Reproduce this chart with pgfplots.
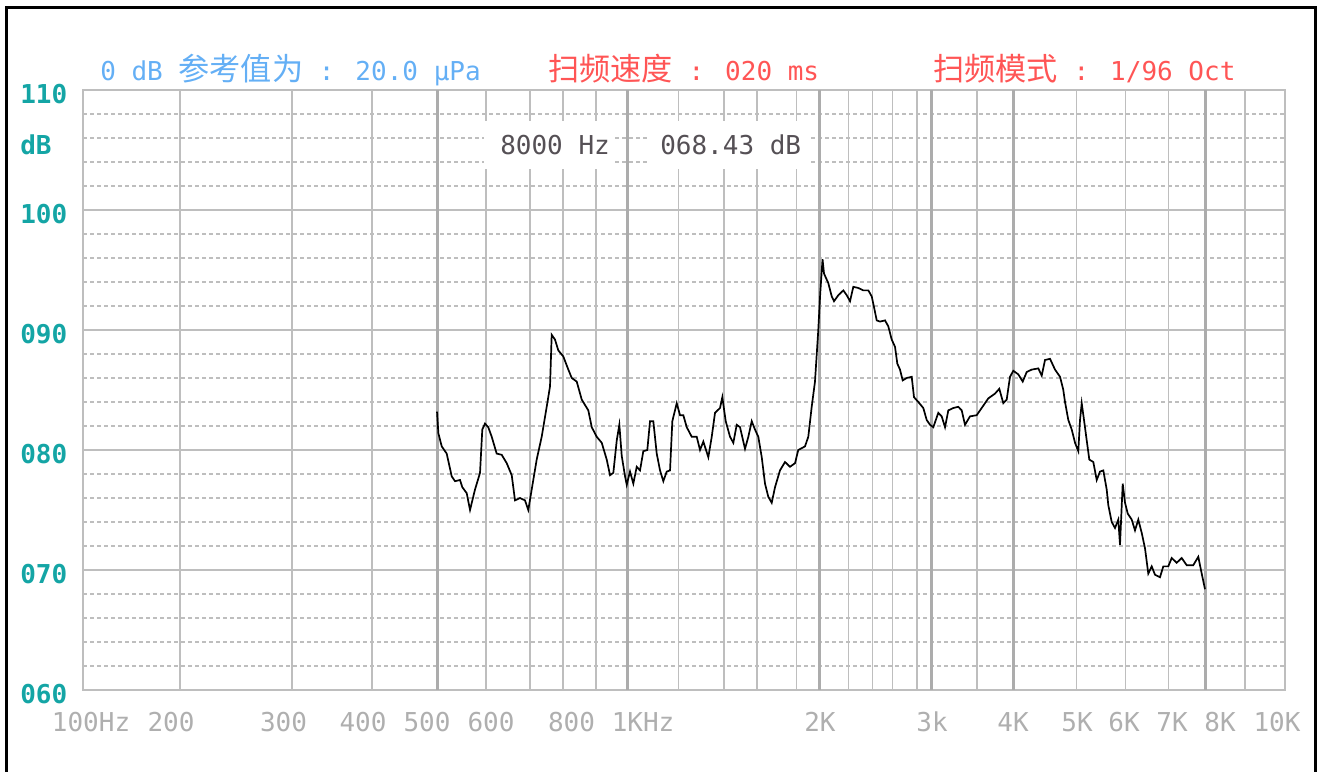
\documentclass[border=0pt]{standalone}
\usepackage{fontspec}
\usepackage{pgfplots}
\pgfplotsset{compat=1.18}
\newfontfamily\mono{DejaVu Sans Mono}
\newfontfamily\cjk{Noto Sans CJK SC}
\newlength\px
\setlength\px{0.75pt}
\newcommand\M{\mono\fontsize{19.5pt}{20pt}\selectfont}
\newcommand\MB{\mono\bfseries\fontsize{19.5pt}{20pt}\selectfont}
\newcommand\C{\cjk\fontsize{23.4pt}{24pt}\selectfont}
\definecolor{gridc}{RGB}{190,190,190}
\definecolor{gridk}{RGB}{172,172,172}
\definecolor{ytcol}{RGB}{20,165,165}
\definecolor{xlab}{RGB}{175,175,175}
\definecolor{topblue}{RGB}{100,175,245}
\definecolor{topred}{RGB}{255,85,85}
\definecolor{annot}{RGB}{85,80,85}

\begin{document}
\begin{tikzpicture}[x=\px,y=\px]
\begin{axis}[
  at={(83\px,81\px)}, anchor=south west, scale only axis,
  width=1202\px, height=600\px,
  xmode=log, xmin=139.3, xmax=10679, ymin=60, ymax=110,
  axis line style={gridc, line width=1.5\px},
  tick style={draw=none},
  xtick={143.4,191.4,287.3,382.8,482.3,607.6,812.6,1052,1992.8,2985.8,4000,5039.8,5971.6,7102,8445.8,10374.9},
  xticklabels={100Hz,200,300,400,500,600,800,1KHz,2K,3k,4K,5K,6K,7K,8K,10K},
  minor xtick={197.7,296.2,395.4,596.8,699.5,788,887.7,1194.8,1409,1587,1830.6,2207,2408.6,2591,2828.4,3512.7,5034,5999.8,7013,9243.5},
  xmajorgrids=false, xminorgrids=true,
  minor x grid style={gridc, line width=1.5\px},
  extra x ticks={500,993.9,1989,2975,4007,8000},
  extra x tick labels={},
  extra x tick style={xmajorgrids=true, major x grid style={gridk, line width=3\px}},
  ytick={60,70,80,90,100,110},
  yticklabels={060,070,080,090,100,110},
  minor ytick={62,64,66,68,72,74,76,78,82,84,86,88,92,94,96,98,102,104,106,108},
  ymajorgrids=true, yminorgrids=true,
  major y grid style={gridc, line width=1.5\px},
  minor y grid style={gridc, line width=1.2\px, dash pattern=on 4\px off 3\px},
  extra y ticks={105.75}, extra y tick labels={dB},
  extra y tick style={ymajorgrids=false},
  xticklabel style={font=\M, text=xlab, anchor=base, inner sep=0pt, yshift=-41\px},
  yticklabel style={font=\MB, text=ytcol, anchor=base west, inner sep=0pt, xshift=-63\px, yshift=-14\px},
]
\addplot[black, line width=1.7\px] coordinates {
(500,83.2) (502.4,81.4) (508.6,80.3) (517.8,79.7) (527.3,77.8) (533.6,77.4) (543.3,77.5) (547.8,76.9)
(556.6,76.4) (563.3,75.0) (573.5,76.7) (584.0,78.1) (588.8,81.7) (594.6,82.2) (601.7,81.9) (609.2,81.1)
(620.2,79.7) (631.6,79.6) (643.1,78.9) (654.8,77.9) (662.6,75.8) (674.7,76.0) (687.0,75.8) (695.2,75.0)
(703.8,76.7) (716.6,79.2) (729.7,81.1) (743.0,83.6) (751.9,85.3) (756.5,89.6) (765.6,89.2) (774.8,88.3)
(788.9,87.8) (803.3,86.7) (813.2,86.0) (828.0,85.7) (843.1,84.2) (863.4,83.3) (874.1,81.9) (890.0,81.1)
(906.2,80.6) (922.7,79.2) (933.8,77.9) (945.0,78.1) (956.7,80.8) (965.7,82.1) (974.1,79.5) (985.8,77.8)
(991.8,77.1) (1003.6,78.2) (1015.7,77.2) (1028.2,78.6) (1040.5,78.3) (1053.0,79.9) (1068.3,80.0) (1078.8,82.4)
(1091.7,82.4) (1105.2,79.7) (1118.5,78.3) (1131.9,77.4) (1145.8,78.2) (1159.6,78.3) (1169.3,82.4) (1188.0,83.9)
(1202.2,82.9) (1216.6,82.9) (1231.7,81.9) (1254.1,81.1) (1276.9,81.1) (1292.2,80.0) (1307.7,80.7) (1331.5,79.4)
(1348.0,81.1) (1364.1,83.1) (1389.0,83.5) (1400.6,84.4) (1417.9,82.4) (1440.1,81.1) (1457.3,80.6) (1475.3,82.1)
(1493.0,81.9) (1520.2,80.1) (1538.4,81.1) (1557.4,82.4) (1576.1,81.7) (1595.0,81.1) (1614.7,79.4) (1634.0,77.2)
(1653.6,76.1) (1674.0,75.6) (1694.1,76.9) (1724.9,78.3) (1756.3,79.0) (1788.3,78.6) (1820.9,78.9) (1842.7,80.0)
(1887.8,80.3) (1910.4,81.1) (1934.0,83.6) (1957.2,85.7) (1980.7,90.0) (1995.0,93.1) (2011.0,95.9) (2021.9,94.7)
(2053.5,93.9) (2078.9,92.8) (2096.2,92.4) (2129.0,92.9) (2167.8,93.3) (2194.5,92.9) (2220.8,92.4) (2247.5,93.6)
(2288.4,93.5) (2330.1,93.3) (2372.5,93.3) (2401.8,92.8) (2421.8,91.9) (2445.5,90.8) (2474.8,90.7) (2519.9,90.8)
(2550.1,90.3) (2581.6,89.2) (2612.5,88.6) (2634.3,87.2) (2660.1,86.7) (2686.1,85.8) (2725.2,86.0) (2774.8,86.1)
(2797.9,84.4) (2841.7,84.0) (2893.5,83.5) (2929.2,82.5) (2964.3,82.1) (3000.0,81.9) (3054.5,83.1) (3092.3,82.8)
(3129.4,81.9) (3166.9,83.3) (3224.5,83.5) (3283.3,83.6) (3323.8,83.3) (3363.6,82.1) (3424.9,82.8) (3508.7,82.9)
(3572.6,83.5) (3658.8,84.3) (3748.4,84.7) (3807.0,85.1) (3862.4,83.9) (3910.1,84.2) (3957.0,86.1) (4004.4,86.6)
(4077.3,86.3) (4142.6,85.7) (4202.8,86.5) (4279.4,86.7) (4382.6,86.8) (4436.7,86.2) (4489.9,87.5) (4571.6,87.6)
(4654.9,86.7) (4739.7,86.1) (4796.5,85.0) (4826.0,84.0) (4883.9,82.5) (4944.2,81.7) (5003.4,80.6) (5063.4,79.9)
(5094.5,82.5) (5125.9,83.9) (5168.6,82.5) (5219.3,80.8) (5268.5,79.2) (5345.1,79.0) (5411.2,77.5) (5476.0,78.2)
(5541.6,78.3) (5610.1,76.7) (5642.6,75.4) (5712.3,74.0) (5780.7,73.5) (5850.0,74.2) (5886.0,72.1) (5943.7,77.2)
(5993.2,75.6) (6051.9,74.7) (6140.0,74.2) (6213.5,73.3) (6288.0,74.2) (6365.7,73.1) (6442.0,71.8) (6519.2,69.7)
(6599.7,70.3) (6678.8,69.6) (6800.5,69.4) (6882.0,70.3) (7007.3,70.3) (7093.9,71.0) (7223.1,70.6) (7354.7,71.0)
(7488.6,70.4) (7669.3,70.4) (7808.9,71.1) (7905.4,69.7) (8000,68.4)
};
\end{axis}
% readout boxes over the grid
\fill[white] (484,602) rectangle (615,650);
\fill[white] (648,602) rectangle (808,650);
\node[anchor=base west, inner sep=0pt, text=annot, font=\M] at (500,616) {8000 Hz};
\node[anchor=base west, inner sep=0pt, text=annot, font=\M] at (660,616) {068.43 dB};
% header line
\node[anchor=base west, inner sep=0pt, text=topblue] at (100,690) {{\M 0 dB }{\C 参考值为}{\M\ : 20.0 μPa}};
\node[anchor=base west, inner sep=0pt, text=topred] at (548,690) {{\C 扫频速度}{\M\ : 020 ms}};
\node[anchor=base west, inner sep=0pt, text=topred] at (933,690) {{\C 扫频模式}{\M\ : 1/96 Oct}};
% outer frame
\draw[black, line width=3\px] (6,-20) -- (6,763) -- (1315,763) -- (1315,-20);
\pgfresetboundingbox
\useasboundingbox (0,0) rectangle (1317,771);
\end{tikzpicture}
\end{document}
